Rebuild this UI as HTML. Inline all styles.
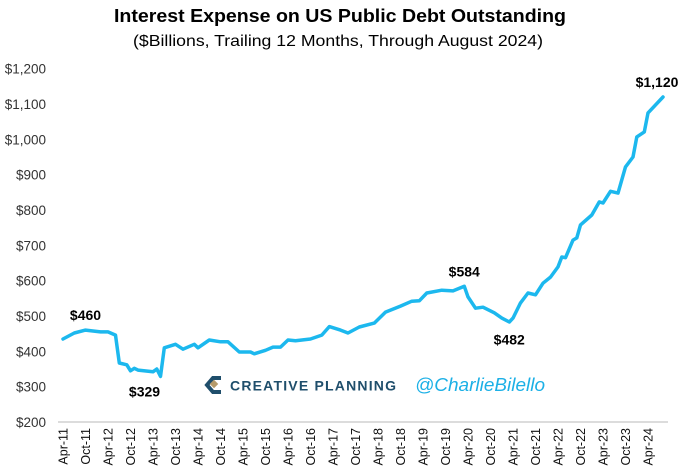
<!DOCTYPE html>
<html><head><meta charset="utf-8"><style>
body{margin:0;background:#fff;}
svg{display:block;font-family:"Liberation Sans",sans-serif;}
</style></head><body>
<svg id="chart" width="680" height="476" viewBox="0 0 680 476" xmlns="http://www.w3.org/2000/svg">
<text x="340" y="22" text-anchor="middle" font-size="18" font-weight="bold" fill="#000" textLength="452" lengthAdjust="spacingAndGlyphs">Interest Expense on US Public Debt Outstanding</text>
<text x="338" y="46" text-anchor="middle" font-size="16" fill="#000" textLength="410" lengthAdjust="spacingAndGlyphs">($Billions, Trailing 12 Months, Through August 2024)</text>
<g id="yaxis"></g>
<g id="xaxis"></g>
<g>
<path d="M221 378 L213 378 L207 385 L213 392 L221 392" fill="none" stroke="#1f4e6b" stroke-width="4"/>
<rect x="211" y="381" width="6" height="6" transform="rotate(45 214 384)" fill="#b59a6a"/>
<text x="230" y="390.5" font-size="14" font-weight="bold" fill="#1f4e6b" textLength="166" lengthAdjust="spacing">CREATIVE PLANNING</text>
</g>
<text x="415" y="391" font-size="18" font-style="italic" fill="#1cb0e6" textLength="130" lengthAdjust="spacingAndGlyphs">@CharlieBilello</text>
<g id="plot"></g>
</svg>
<script>
const months = [0,3,6,10,12,14,15,17,18,19,20,24,25,26,27,30,32,35,36,39,42,44,47,50,51,54,56,58,60,62,66,69,71,74,76,79,83,86,90,93,95,97,101,104,107,108,110,112,115,117,119,120,122,124,126,128,130,132,133,134,136,137,138,141,143,144,146,148,150,152,153,155,156,160];
const values = [435,452,460,455,455,446,367,362,345,352,347,342,350,329,410,420,406,420,410,432,427,427,398,398,393,403,412,412,432,430,435,446,470,460,452,469,480,511,528,542,543,565,573,571,584,554,522,525,509,494,483,494,537,565,560,593,610,639,667,665,715,721,758,786,823,820,853,848,922,950,1007,1021,1075,1120];
const yTicks = [200,300,400,500,600,700,800,900,1000,1100,1200];
const yTickLabels = ["$200","$300","$400","$500","$600","$700","$800","$900","$1,000","$1,100","$1,200"];
const xTickLabels = ["Apr-11","Oct-11","Apr-12","Oct-12","Apr-13","Oct-13","Apr-14","Oct-14","Apr-15","Oct-15","Apr-16","Oct-16","Apr-17","Oct-17","Apr-18","Oct-18","Apr-19","Oct-19","Apr-20","Oct-20","Apr-21","Oct-21","Apr-22","Oct-22","Apr-23","Oct-23","Apr-24"];
const annotations = [[6,460,"$460"],[26,329,"$329"],[107,584,"$584"],[119,482,"$482"],[160,1120,"$1,120"]];
const annOffsets = [[0,-10],[-16,20],[0,-10],[0,22],[-6,-10]];
const NS="http://www.w3.org/2000/svg";
const xs = m => 63 + m*3.75;
const ys = v => 422 - (v-200)*0.3533;
function mk(tag, attrs, parent){const e=document.createElementNS(NS,tag);for(const k in attrs)e.setAttribute(k,attrs[k]);parent.appendChild(e);return e;}
const ya=document.getElementById('yaxis'), xa=document.getElementById('xaxis'), plot=document.getElementById('plot');
yTicks.forEach((v,i)=>{
  const t=mk('text',{x:46,y:ys(v)+5,'text-anchor':'end','font-size':13.5,fill:'#333'},ya);
  t.textContent=yTickLabels[i];
  
  
});
const base=mk('line',{x1:58,x2:668,y1:ys(200),y2:ys(200),stroke:'#d0d0d0','stroke-width':1.5},xa);


xTickLabels.forEach((l,i)=>{
  const x=xs(i*6);
  const t=mk('text',{x:0,y:0,'text-anchor':'end','font-size':12.5,fill:'#111',transform:`translate(${x+4.5},428) rotate(-90)`},xa);
  t.textContent=l;
  
  
});
const d=months.map((m,i)=>(i?'L':'M')+xs(m).toFixed(1)+' '+ys(values[i]).toFixed(1)).join(' ');
const line=mk('path',{d:d,fill:'none',stroke:'#1cb8ee','stroke-width':3.5,'stroke-linejoin':'round','stroke-linecap':'round'},plot);


annotations.forEach((a,i)=>{
  const t=mk('text',{x:xs(a[0])+annOffsets[i][0],y:ys(a[1])+annOffsets[i][1],'text-anchor':'middle','font-size':14,'font-weight':'bold',fill:'#000'},plot);
  t.textContent=a[2];
  
  
});
</script>
</body></html>
